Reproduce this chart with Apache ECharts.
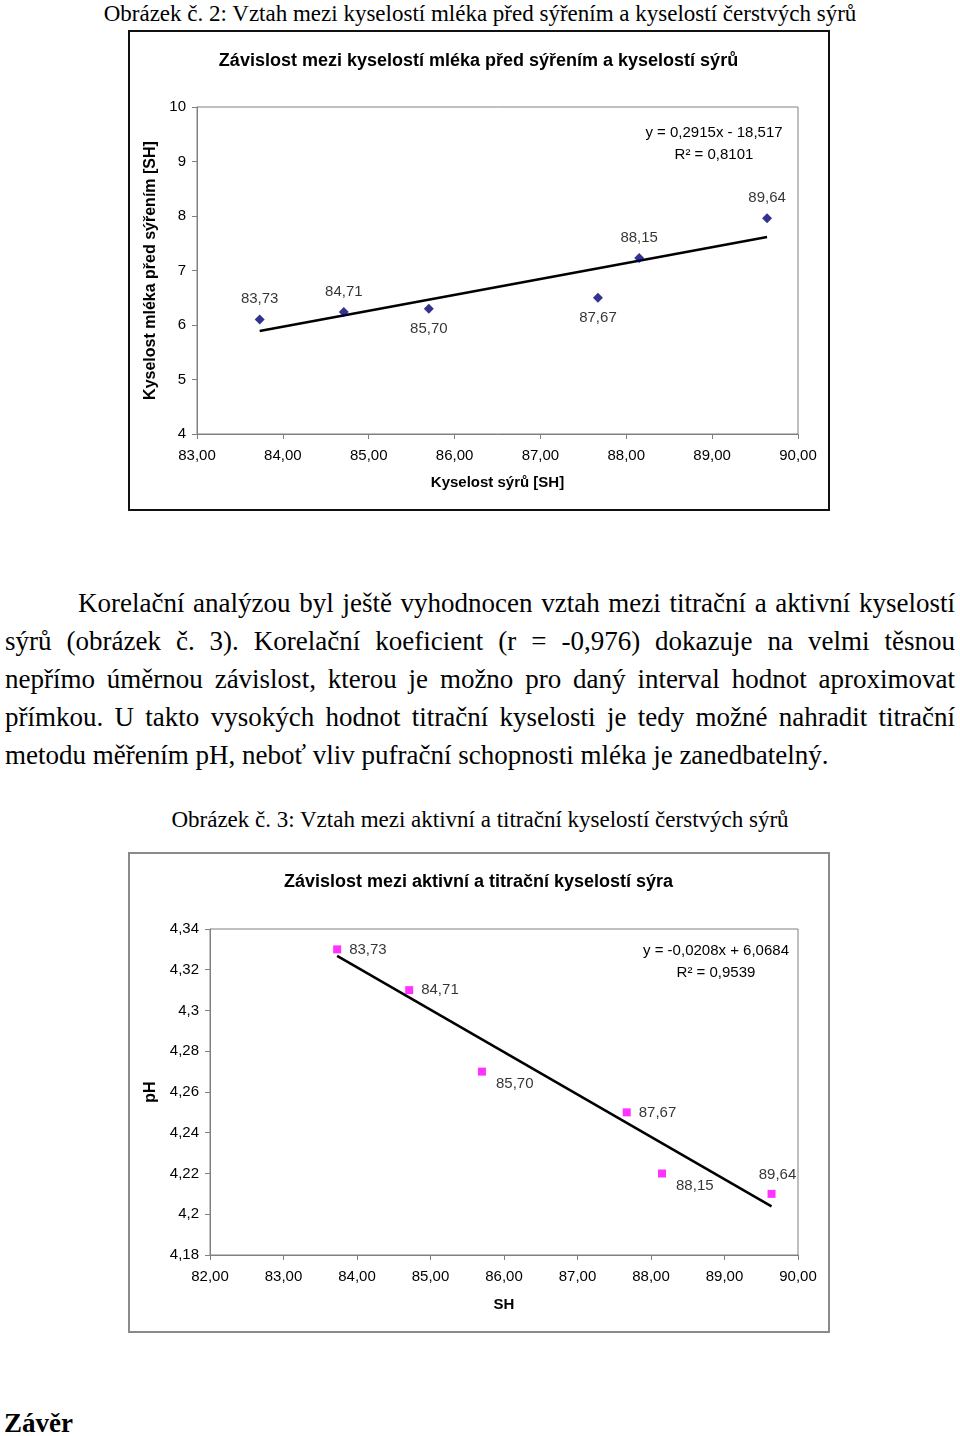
<!DOCTYPE html>
<html><head><meta charset="utf-8">
<script src="https://cdn.jsdelivr.net/npm/echarts@6/dist/echarts.min.js"></script>
<style>
html,body{margin:0;padding:0;background:#fff;}
body{width:960px;height:1436px;position:relative;overflow:hidden;font-family:"Liberation Serif","Times New Roman",serif;color:#000;}
.t{position:absolute;white-space:nowrap;font-size:27px;line-height:38px;}
.j{text-align:justify;text-align-last:justify;}
.cap{position:absolute;left:0;width:960px;text-align:center;font-size:23px;line-height:30px;white-space:nowrap;}
.chart{position:absolute;}
.frame{position:absolute;box-sizing:border-box;pointer-events:none;}
</style></head><body>

<div class="cap" style="top:-1px;">Obrázek č. 2: Vztah mezi kyselostí mléka před sýřením a kyselostí čerstvých sýrů</div>

<div id="c1" class="chart" style="left:128px;top:30px;width:701px;height:480px;"></div>
<div class="frame" style="left:128px;top:30px;width:702px;height:481px;border:2px solid #111;"></div>

<div class="t j" style="left:78px;top:584px;width:877px;">Korelační analýzou byl ještě vyhodnocen vztah mezi titrační a aktivní kyselostí</div>
<div class="t j" style="left:5px;top:622px;width:950px;">sýrů (obrázek č. 3). Korelační koeficient (r = -0,976) dokazuje na velmi těsnou</div>
<div class="t j" style="left:5px;top:660px;width:950px;">nepřímo úměrnou závislost, kterou je možno pro daný interval hodnot aproximovat</div>
<div class="t j" style="left:5px;top:698px;width:950px;">přímkou. U takto vysokých hodnot titrační kyselosti je tedy možné nahradit titrační</div>
<div class="t" style="left:5px;top:736px;">metodu měřením pH, neboť vliv pufrační schopnosti mléka je zanedbatelný.</div>

<div class="cap" style="top:805px;">Obrázek č. 3: Vztah mezi aktivní a titrační kyselostí čerstvých sýrů</div>

<div id="c2" class="chart" style="left:128px;top:852px;width:701px;height:480px;"></div>
<div class="frame" style="left:128px;top:852px;width:702px;height:481px;border:2px solid #8a8a8a;"></div>

<div class="t" style="left:4px;top:1404px;font-weight:bold;font-size:27px;">Závěr</div>

<script>
// ---- data ----
const sampleX = [83.73, 84.71, 85.70, 87.67, 88.15, 89.64];        // kyselost sýrů [SH]
const milkAcidity = [6.10, 6.24, 6.30, 6.50, 7.23, 7.96];          // chart 1 y
const cheesePH = [4.33, 4.31, 4.27, 4.25, 4.22, 4.21];             // chart 2 y
const trend1Coef = [0.2915, -18.517];
const trend2Coef = [-0.0208, 6.0684];
const eq1Text = ['y = 0,2915x - 18,517', 'R² = 0,8101'];
const eq2Text = ['y = -0,0208x + 6,0684', 'R² = 0,9539'];
const title1 = 'Závislost mezi kyselostí mléka před sýřením a kyselostí sýrů';
const title2 = 'Závislost mezi aktivní a titrační kyselostí sýra';
const xName1 = 'Kyselost sýrů [SH]', yName1 = 'Kyselost mléka před sýřením [SH]';
const xName2 = 'SH', yName2 = 'pH';
// label placement (style)
const labelPos1 = ['top','top','bottom','bottom','top','top'];
const labelPos2 = ['right','right','br','right','br','top'];

const FONT = '"Liberation Sans", Arial, sans-serif';
const comma = (v, d) => (d == null ? String(+v.toFixed(2)) : v.toFixed(d)).replace('.', ',');
const trendLine = (c) => {
  const x0 = Math.min(...sampleX), x1 = Math.max(...sampleX);
  return [[x0, c[0]*x0 + c[1]], [x1, c[0]*x1 + c[1]]];
};
const axisCommon = {
  axisLine: {show: true, lineStyle: {color: '#808080', width: 1}},
  axisTick: {show: true, inside: false, length: 5, lineStyle: {color: '#808080'}},
  splitLine: {show: false},
  axisLabel: {color: '#000', fontFamily: FONT, fontSize: 15}
};
function eqGraphic(lines, cx, y0) {
  return lines.map((t, i) => ({
    type: 'text', x: cx, y: y0 + i*22,
    style: {text: t, font: '15px ' + FONT, fill: '#000', textAlign: 'center', textVerticalAlign: 'middle'}
  }));
}
const nameStyle = (sz) => ({fontFamily: FONT, fontSize: sz, fontWeight: 'bold', color: '#000'});

// ---- chart 1 ----
const c1 = echarts.init(document.getElementById('c1'), null, {renderer: 'canvas'});
c1.setOption({
  animation: false,
  title: {text: title1, left: 'center', top: 17,
    textStyle: {fontFamily: FONT, fontSize: 18, fontWeight: 'bold', color: '#000'}},
  grid: {left: 69, right: 31, top: 77, bottom: 76, show: true, borderColor: '#808080', borderWidth: 1, containLabel: false},
  xAxis: Object.assign({}, axisCommon, {type: 'value', min: 83, max: 90, interval: 1,
    name: xName1, nameLocation: 'middle', nameGap: 41,
    nameTextStyle: Object.assign(nameStyle(15), {verticalAlign: 'top'}),
    axisLabel: Object.assign({}, axisCommon.axisLabel, {margin: 14, formatter: v => comma(v, 2)})}),
  yAxis: Object.assign({}, axisCommon, {type: 'value', min: 4, max: 10, interval: 1,
    name: yName1, nameLocation: 'middle', nameGap: 34, nameRotate: 90,
    nameTextStyle: nameStyle(16),
    axisLabel: Object.assign({}, axisCommon.axisLabel, {margin: 11})}),
  graphic: eqGraphic(eq1Text, 586, 103),
  series: [
    {type: 'line', data: trendLine(trend1Coef), symbol: 'none', lineStyle: {color: '#000', width: 2.5}, z: 2},
    {type: 'scatter', symbol: 'diamond', symbolSize: 10, itemStyle: {color: '#000070'}, z: 3,
     data: sampleX.map((x, i) => ({value: [x, milkAcidity[i]],
       label: {show: true, position: labelPos1[i], distance: 8}})),
     label: {formatter: p => comma(p.value[0], 2), color: '#000', fontFamily: FONT, fontSize: 15}}
  ]
});

// ---- chart 2 ----
const c2 = echarts.init(document.getElementById('c2'), null, {renderer: 'canvas'});
const lp2 = (p) => p === 'br' ? {position: 'right', offset: [2, 12], distance: 8} : p === 'top' ? {position: 'top', offset: [6, 0], distance: 8} : {position: 'right', distance: 8};
c2.setOption({
  animation: false,
  title: {text: title2, left: 'center', top: 16,
    textStyle: {fontFamily: FONT, fontSize: 18, fontWeight: 'bold', color: '#000'}},
  grid: {left: 82, right: 31, top: 77, bottom: 77, show: true, borderColor: '#808080', borderWidth: 1, containLabel: false},
  xAxis: Object.assign({}, axisCommon, {type: 'value', min: 82, max: 90, interval: 1,
    name: xName2, nameLocation: 'middle', nameGap: 42,
    nameTextStyle: Object.assign(nameStyle(15), {verticalAlign: 'top'}),
    axisLabel: Object.assign({}, axisCommon.axisLabel, {margin: 14, formatter: v => comma(v, 2)})}),
  yAxis: Object.assign({}, axisCommon, {type: 'value', min: 4.18, max: 4.34, interval: 0.02,
    name: yName2, nameLocation: 'middle', nameGap: 47, nameRotate: 90,
    nameTextStyle: nameStyle(16),
    axisLabel: Object.assign({}, axisCommon.axisLabel, {margin: 11, formatter: v => comma(v)})}),
  graphic: eqGraphic(eq2Text, 588, 99),
  series: [
    {type: 'line', data: trendLine(trend2Coef), symbol: 'none', lineStyle: {color: '#000', width: 2.5}, z: 2},
    {type: 'scatter', symbol: 'rect', symbolSize: 8, itemStyle: {color: '#ff00ff'}, z: 3,
     data: sampleX.map((x, i) => ({value: [x, cheesePH[i]],
       label: Object.assign({show: true}, lp2(labelPos2[i]))})),
     label: {formatter: p => comma(p.value[0], 2), color: '#000', fontFamily: FONT, fontSize: 15}}
  ]
});
</script>
</body></html>
